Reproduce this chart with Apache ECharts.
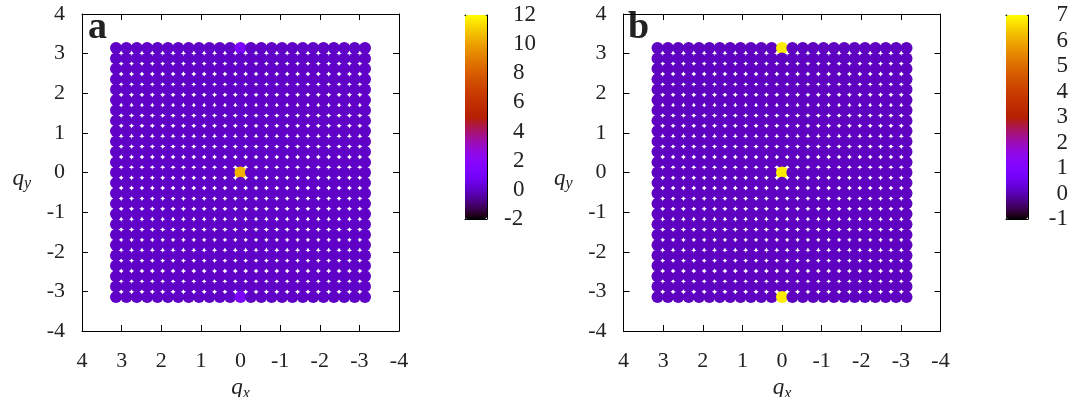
<!DOCTYPE html>
<html>
<head>
<meta charset="utf-8">
<script src="https://cdn.jsdelivr.net/npm/echarts@6/dist/echarts.min.js"></script>
<style>
  html, body { margin: 0; padding: 0; background: #fff; }
  #chart { width: 1076px; height: 397px; }
</style>
</head>
<body>
<div id="chart"></div>
<script>
// lattice steps in units of pi/12, left-to-right / top-to-bottom draw order
const qIndex = [12, 11, 10, 9, 8, 7, 6, 5, 4, 3, 2, 1, 0, -1, -2, -3, -4, -5, -6, -7, -8, -9, -10, -11, -12]

// panel a
const baseA = 0
const peaksA = [[0, 12, 1.3], [0, 0, 10.4], [0, -12, 1.3]] // [kx, ky, value]
const cbarA = [-2, 12]

// panel b
const baseB = 0.1
const peaksB = [[0, 12, 6.8], [0, 0, 6.8], [0, -12, 6.8]]
const cbarB = [-1, 7]

const FAMILY = 'Liberation Serif'
const step = Math.PI / 12

function buildPoints(base, peaks) {
  const pts = []
  qIndex.forEach((kx) => {
    qIndex.forEach((ky) => {
      const p = peaks.find(e => e[0] === kx && e[1] === ky)
      pts.push([kx * step, ky * step, p ? p[2] : base])
    })
  })
  return pts
}

// gnuplot default palette (rgbformulae 7,5,15)
function palette(n) {
  const out = []
  for (let i = 0; i <= n; i++) {
    const x = i / n
    const r = Math.sqrt(x)
    const g = x * x * x
    const b = Math.max(0, Math.sin(2 * Math.PI * x))
    out.push('rgb(' + Math.round(r * 255) + ',' + Math.round(g * 255) + ',' + Math.round(b * 255) + ')')
  }
  return out
}
const colors = palette(48)

const frameLine = { color: '#000', width: 1 }
const nameRich = {
  q: { fontFamily: FAMILY, fontStyle: 'italic', fontSize: 23, color: '#222' },
  s: { fontFamily: FAMILY, fontStyle: 'italic', fontSize: 16, color: '#222', padding: [10, 0, 0, 0] },
}

function plotAxes(gi) {
  const common = {
    gridIndex: gi, type: 'value', min: -4, max: 4, interval: 1,
    splitLine: { show: false },
    axisLine: { show: true, onZero: false, lineStyle: frameLine },
    axisTick: { show: true, inside: true, length: 6, lineStyle: frameLine },
  }
  const xs = [
    Object.assign({}, common, {
      position: 'bottom', inverse: true,
      axisLabel: { fontFamily: FAMILY, fontSize: 22, color: '#222', margin: 19 },
      name: '{q|q}{s|x}', nameLocation: 'middle', nameGap: 41,
      nameTextStyle: { rich: nameRich },
    }),
    Object.assign({}, common, { position: 'top', inverse: true, axisLabel: { show: false } }),
  ]
  const ys = [
    Object.assign({}, common, {
      position: 'left',
      axisLabel: { fontFamily: FAMILY, fontSize: 22, color: '#222', margin: 17 },
      name: '{q|q}{s|y}', nameLocation: 'middle', nameGap: 51, nameRotate: 0,
      nameTextStyle: { rich: nameRich, align: 'right', padding: [12, 0, 0, 0] },
    }),
    Object.assign({}, common, { position: 'right', axisLabel: { show: false } }),
  ]
  return { xs, ys }
}

function cbarAxes(gi, range, labelOpts) {
  const common = {
    gridIndex: gi, type: 'value', min: range[0], max: range[1],
    interval: range[1] - range[0] > 10 ? 2 : 1,
    splitLine: { show: false },
    axisLine: { show: true, onZero: false, lineStyle: frameLine },
    axisTick: { show: true, inside: true, length: 6, lineStyle: frameLine },
  }
  const hiddenX = {
    gridIndex: gi, type: 'value', min: 0, max: 1,
    axisLine: { show: true, onZero: false, lineStyle: frameLine }, axisTick: { show: false },
    axisLabel: { show: false }, splitLine: { show: false },
  }
  const xs = [
    Object.assign({}, hiddenX, { position: 'bottom' }),
    Object.assign({}, hiddenX, { position: 'top' }),
  ]
  const ys = [
    Object.assign({}, common, {
      position: 'right',
      axisLabel: Object.assign({ fontFamily: FAMILY, fontSize: 23, color: '#222' }, labelOpts),
    }),
    Object.assign({}, common, { position: 'left', axisLabel: { show: false } }),
  ]
  return { xs, ys }
}

const pa = plotAxes(0)
const pb = plotAxes(1)
// colour bar a: digits left-aligned, minus sign hanging out to the left
const ca = cbarAxes(2, cbarA, {
  margin: 17, align: 'left',
  formatter: v => (v < 0 ? String(v) : '{d|' + v + '}'),
  rich: { d: { fontFamily: FAMILY, fontSize: 23, color: '#222', padding: [0, 0, 0, 9] } },
})
const cb = cbarAxes(3, cbarB, { margin: 40, align: 'right' })

const chart = echarts.init(document.getElementById('chart'))
chart.setOption({
  animation: false,
  grid: [
    { left: 82, top: 14, width: 317, height: 317, outerBoundsMode: 'none', containLabel: false },
    { left: 623.5, top: 14, width: 317, height: 317, outerBoundsMode: 'none', containLabel: false },
    { left: 465, top: 15, width: 22, height: 204, outerBoundsMode: 'none', containLabel: false },
    { left: 1006, top: 15, width: 22, height: 204, outerBoundsMode: 'none', containLabel: false },
  ],
  xAxis: [...pa.xs, ...pb.xs, ...ca.xs, ...cb.xs],
  yAxis: [...pa.ys, ...pb.ys, ...ca.ys, ...cb.ys],
  visualMap: [
    { type: 'continuous', seriesIndex: 0, dimension: 2, min: cbarA[0], max: cbarA[1],
      left: 465, top: 15, itemWidth: 22, itemHeight: 204, padding: 0,
      calculable: false, hoverLink: false, text: null, showLabel: false,
      inRange: { color: colors, opacity: 1 } },
    { type: 'continuous', seriesIndex: 1, dimension: 2, min: cbarB[0], max: cbarB[1],
      left: 1006, top: 15, itemWidth: 22, itemHeight: 204, padding: 0,
      calculable: false, hoverLink: false, text: null, showLabel: false,
      inRange: { color: colors, opacity: 1 } },
  ],
  graphic: [
    { type: 'text', left: 88, top: 9, style: { text: 'a', font: 'bold 38px "Liberation Serif"', fill: '#222' } },
    { type: 'text', left: 628, top: 9, style: { text: 'b', font: 'bold 38px "Liberation Serif"', fill: '#222' } },
  ],
  series: [
    { type: 'scatter', xAxisIndex: 0, yAxisIndex: 0, symbolSize: 12,
      itemStyle: { opacity: 1 },
      data: buildPoints(baseA, peaksA), emphasis: { disabled: true } },
    { type: 'scatter', xAxisIndex: 2, yAxisIndex: 2, symbolSize: 12,
      itemStyle: { opacity: 1 },
      data: buildPoints(baseB, peaksB), emphasis: { disabled: true } },
  ],
})
</script>
</body>
</html>
